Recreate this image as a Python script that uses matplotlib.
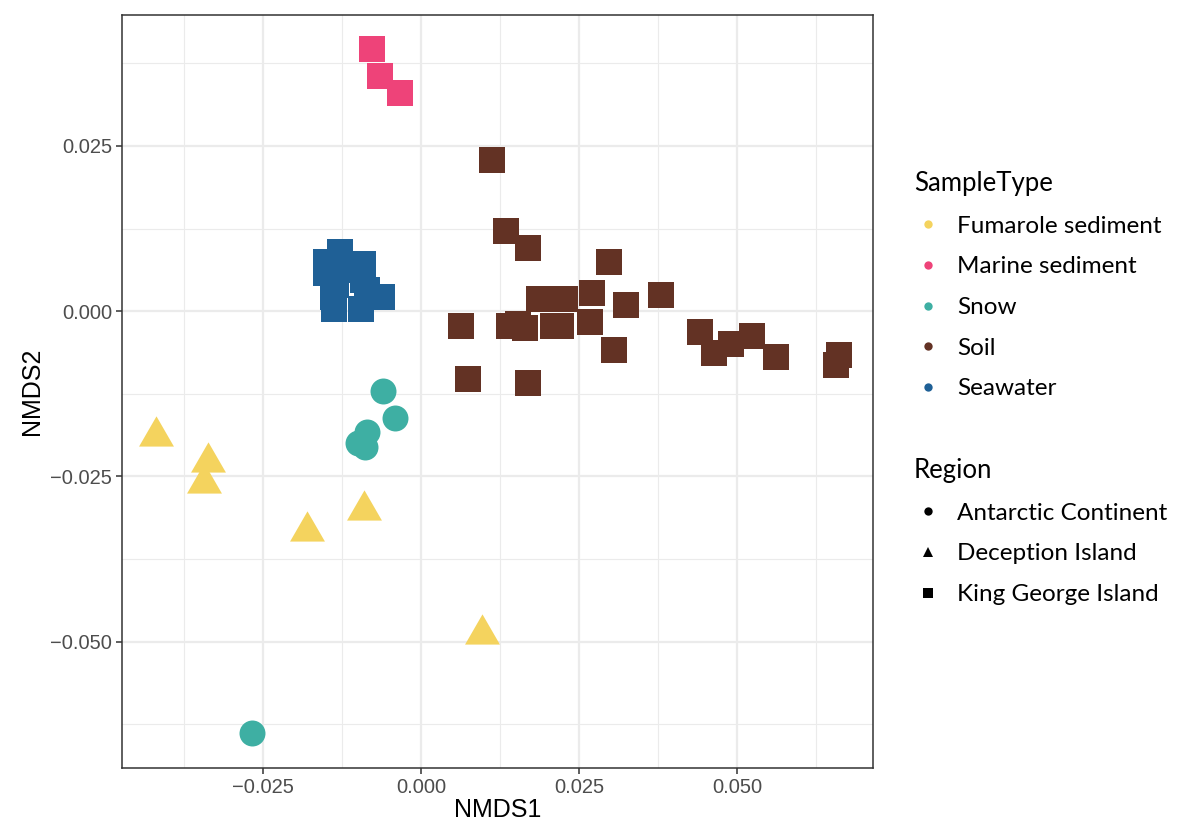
"""NMDS ordination of samples coloured by sample type, shaped by region."""

import matplotlib

matplotlib.use("Agg")
import matplotlib.pyplot as plt
import numpy as np
from matplotlib.lines import Line2D
from matplotlib.path import Path

# ---- data ----
fumarole_x = [-0.0419, -0.0337, -0.0344, -0.0181, -0.0090, 0.0097]
fumarole_y = [-0.0189, -0.0228, -0.0260, -0.0333, -0.0301, -0.0489]

marine_x = [-0.0078, -0.0065, -0.0034]
marine_y = [0.0396, 0.0355, 0.0330]

snow_x = [-0.0060, -0.0041, -0.0085, -0.0099, -0.0089, -0.0268]
snow_y = [-0.0120, -0.0161, -0.0182, -0.0200, -0.0206, -0.0638]

soil_x = [0.0113, 0.0135, 0.0170, 0.0297, 0.0379, 0.0324, 0.0270, 0.0267,
          0.0305, 0.0064, 0.0074, 0.0169, 0.0186, 0.0205, 0.0228, 0.0139,
          0.0153, 0.0165, 0.0208, 0.0221, 0.0441, 0.0464, 0.0490, 0.0523,
          0.0561, 0.0662, 0.0657]
soil_y = [0.0229, 0.0122, 0.0096, 0.0074, 0.0025, 0.0010, 0.0027, -0.0016,
          -0.0058, -0.0022, -0.0102, -0.0109, 0.0018, 0.0018, 0.0018, -0.0022,
          -0.0019, -0.0026, -0.0023, -0.0022, -0.0031, -0.0063, -0.0050,
          -0.0038, -0.0070, -0.0067, -0.0082]

seawater_x = [-0.0128, -0.0151, -0.0151, -0.0092, -0.0062, -0.0137, -0.0095,
              -0.0139, -0.0092, -0.0086, -0.0118, -0.0135]
seawater_y = [0.0089, 0.0074, 0.0057, 0.0072, 0.0021, 0.0004, 0.0004,
              0.0022, 0.0047, 0.0032, 0.0062, 0.0040]

sample_types = ["Fumarole sediment", "Marine sediment", "Snow", "Soil", "Seawater"]
type_colors = ["#F4D35E", "#EE4379", "#3EAFA3", "#633224", "#1F6096"]
regions = ["Antarctic Continent", "Deception Island", "King George Island"]

x_ticks = [-0.025, 0.0, 0.025, 0.05]
y_ticks = [-0.05, -0.025, 0.0, 0.025]

# equilateral triangle centred on its centroid, like R's pch 17
TRIANGLE = Path([(0, 0.577), (-0.5, -0.289), (0.5, -0.289), (0, 0.577)],
                [Path.MOVETO, Path.LINETO, Path.LINETO, Path.CLOSEPOLY])

LEGEND_FONT = ["Lato", "DejaVu Sans"]
AXIS_FONT = ["Liberation Sans", "DejaVu Sans"]


def main() -> None:
    fig = plt.figure(figsize=(11.77, 8.27), dpi=100)
    ax = fig.add_axes([0.1037, 0.0713, 0.638, 0.9106])

    ax.plot(fumarole_x, fumarole_y, linestyle="none", marker=TRIANGLE,
            markersize=29, color=type_colors[0], markeredgewidth=0)
    ax.plot(marine_x, marine_y, linestyle="none", marker="s",
            markersize=19.4, color=type_colors[1], markeredgewidth=0)
    ax.plot(snow_x, snow_y, linestyle="none", marker="o",
            markersize=18.7, color=type_colors[2], markeredgewidth=0)
    ax.plot(soil_x, soil_y, linestyle="none", marker="s",
            markersize=19.4, color=type_colors[3], markeredgewidth=0)
    ax.plot(seawater_x, seawater_y, linestyle="none", marker="s",
            markersize=19.4, color=type_colors[4], markeredgewidth=0)

    ax.set_xlim(-0.0473, 0.0715)
    ax.set_ylim(-0.0691, 0.0448)
    ax.set_xticks(x_ticks)
    ax.set_yticks(y_ticks)
    ax.set_xticklabels([f"{v:.3f}".replace("-", "\u2212") for v in x_ticks],
                       family=AXIS_FONT, fontsize=14.5, color="#4D4D4D")
    ax.set_yticklabels([f"{v:.3f}".replace("-", "\u2212") for v in y_ticks],
                       family=AXIS_FONT, fontsize=14.5, color="#4D4D4D")
    ax.set_xticks(np.arange(-0.0375, 0.07, 0.025), minor=True)
    ax.set_yticks(np.arange(-0.0625, 0.045, 0.025), minor=True)
    ax.tick_params(axis="both", which="major", length=4, width=1.1,
                   color="#333333", pad=3)
    ax.tick_params(axis="both", which="minor", length=0)
    ax.grid(True, which="major", color="#EBEBEB", linewidth=1.6)
    ax.grid(True, which="minor", color="#EBEBEB", linewidth=0.8)
    ax.set_axisbelow(True)
    for spine in ax.spines.values():
        spine.set_color("#333333")
        spine.set_linewidth(1.1)

    ax.set_xlabel("NMDS1", family=AXIS_FONT, fontsize=18, labelpad=1)
    ax.set_ylabel("NMDS2", family=AXIS_FONT, fontsize=18, labelpad=5)

    legend_kw = dict(
        loc="upper left", frameon=False,
        prop={"family": LEGEND_FONT, "size": 17.5},
        title_fontproperties={"family": LEGEND_FONT, "size": 18.5},
        labelspacing=0.81, handletextpad=0.6, handlelength=1.2,
        borderaxespad=0,
    )

    type_handles = [
        Line2D([], [], linestyle="none", marker="o", markersize=6,
               color=c, markeredgewidth=0)
        for c in type_colors
    ]
    leg1 = fig.legend(type_handles, sample_types, title="SampleType",
                      bbox_to_anchor=(0.768, 0.805), **legend_kw)
    leg1._legend_box.align = "left"

    region_markers = ["o", "^", "s"]
    region_handles = [
        Line2D([], [], linestyle="none", marker=m, markersize=s,
               color="black", markeredgewidth=0)
        for m, s in zip(region_markers, [6, 7.5, 6.5])
    ]
    leg2 = fig.legend(region_handles, regions, title="Region",
                      bbox_to_anchor=(0.768, 0.458), **legend_kw)
    leg2._legend_box.align = "left"

    fig.savefig("out.png", dpi=100)
    plt.close(fig)


if __name__ == "__main__":
    main()
